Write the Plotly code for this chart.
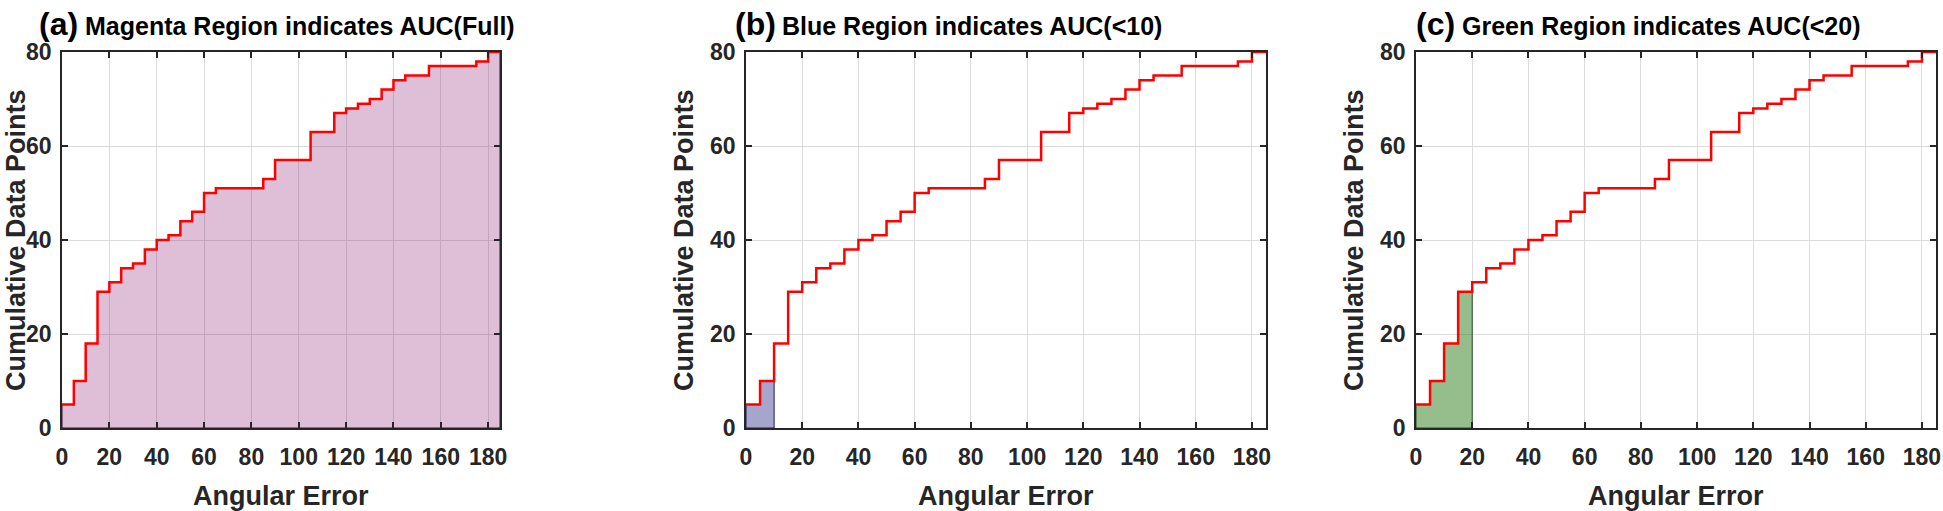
import plotly.graph_objects as go

# ==================================================
# Data
# ==================================================

# left edges of the 5-degree bins of angular error
bin_edges = [0, 5, 10, 15, 20, 25, 30, 35, 40, 45, 50, 55, 60, 65, 70, 75, 80, 85, 90,
             95, 100, 105, 110, 115, 120, 125, 130, 135, 140, 145, 150, 155, 160, 165,
             170, 175, 180]
# cumulative number of data points at each bin
cum_points = [5, 10, 18, 29, 31, 34, 35, 38, 40, 41, 44, 46, 50, 51, 51, 51, 51, 53, 57,
              57, 57, 63, 63, 67, 68, 69, 70, 72, 74, 75, 75, 77, 77, 77, 77, 78, 80]
x_max = 185

panel_titles = ["Magenta Region indicates AUC(Full)",
                "Blue Region indicates AUC(<10)",
                "Green Region indicates AUC(<20)"]
panel_tags = ["(a)", "(b)", "(c)"]
auc_limits = [185, 10, 20]

x_ticks = [0, 20, 40, 60, 80, 100, 120, 140, 160, 180]
y_ticks = [0, 20, 40, 60, 80]

# ==================================================
# Styling
# ==================================================

W, H = 1943, 511
TXT = "#262626"
FONT = "Liberation Sans"
fills = ["rgba(140,20,110,0.28)", "rgba(20,20,120,0.38)", "rgba(20,110,0,0.45)"]
edges = ["#3c0f3c", "#1a1a5a", "#2a4a2a"]

# plot areas in pixels (left, right)
px_left = [62, 746, 1416]
px_right = [500, 1266, 1936]
px_top, px_bottom = 52, 428
tag_left = [37, 733, 1414]
title_left = [83, 780, 1460]
ylab_x = [16, 684, 1354]


def region(limit):
    xs, ys = [0], [0]
    for i, e in enumerate(bin_edges):
        if e >= limit:
            break
        nxt = bin_edges[i + 1] if i + 1 < len(bin_edges) else x_max
        xs += [e, min(nxt, limit)]
        ys += [cum_points[i], cum_points[i]]
    xs += [limit, 0]
    ys += [0, 0]
    return xs, ys


fig = go.Figure()

for k in range(3):
    xa = "x" if k == 0 else f"x{k + 1}"
    ya = "y" if k == 0 else f"y{k + 1}"
    rx, ry = region(auc_limits[k])
    fig.add_trace(go.Scatter(x=rx, y=ry, mode="lines", fill="toself",
                             fillcolor=fills[k], line=dict(color=edges[k], width=1),
                             xaxis=xa, yaxis=ya, showlegend=False, hoverinfo="skip"))
    fig.add_trace(go.Scatter(x=bin_edges + [x_max], y=cum_points + [cum_points[-1]],
                             mode="lines", line=dict(color="#ff0000", width=2.5, shape="hv"),
                             xaxis=xa, yaxis=ya, showlegend=False))

    axis_common = dict(showline=True, linecolor=TXT, linewidth=1.5, mirror="ticks",
                       ticks="inside", ticklen=6, tickwidth=1.5, tickcolor=TXT,
                       showgrid=True, gridcolor="#dcdcdc", gridwidth=1, zeroline=False,
                       automargin=False,
                       tickfont=dict(family=FONT, size=23, color=TXT, weight="bold"))
    suffix = "" if k == 0 else str(k + 1)
    fig.layout["xaxis" + suffix] = dict(axis_common, range=[0, x_max], tickvals=x_ticks,
                                        domain=[px_left[k] / W, px_right[k] / W],
                                        anchor=ya, ticklabelstandoff=8)
    fig.layout["yaxis" + suffix] = dict(axis_common, range=[0, 80], tickvals=y_ticks,
                                        domain=[1 - px_bottom / H, 1 - px_top / H],
                                        anchor=xa, ticklabelstandoff=4)

    # titles
    fig.add_annotation(x=tag_left[k] / W, y=1 - 24 / H, xref="paper", yref="paper",
                       xanchor="left", yanchor="middle", showarrow=False,
                       text=panel_tags[k],
                       font=dict(family=FONT, size=32, color="black", weight="bold"))
    fig.add_annotation(x=title_left[k] / W, y=1 - 26 / H, xref="paper", yref="paper",
                       xanchor="left", yanchor="middle", showarrow=False,
                       text=panel_titles[k],
                       font=dict(family=FONT, size=25, color="black", weight="bold"))
    # axis titles
    fig.add_annotation(x=(px_left[k] + px_right[k]) / 2 / W, y=1 - 496 / H,
                       xref="paper", yref="paper", xanchor="center", yanchor="middle",
                       showarrow=False, text="Angular Error",
                       font=dict(family=FONT, size=27, color=TXT, weight="bold"))
    fig.add_annotation(x=ylab_x[k] / W, y=1 - (px_top + px_bottom) / 2 / H,
                       xref="paper", yref="paper", xanchor="center", yanchor="middle",
                       showarrow=False, textangle=-90, text="Cumulative Data Points",
                       font=dict(family=FONT, size=27, color=TXT, weight="bold"))

fig.update_layout(width=W, height=H, margin=dict(l=0, r=0, t=0, b=0),
                  plot_bgcolor="white", paper_bgcolor="white")

fig.write_html("out.html", config={"displayModeBar": False},
               post_script="document.body.style.margin='0';"
                           "document.body.style.overflow='hidden';")
